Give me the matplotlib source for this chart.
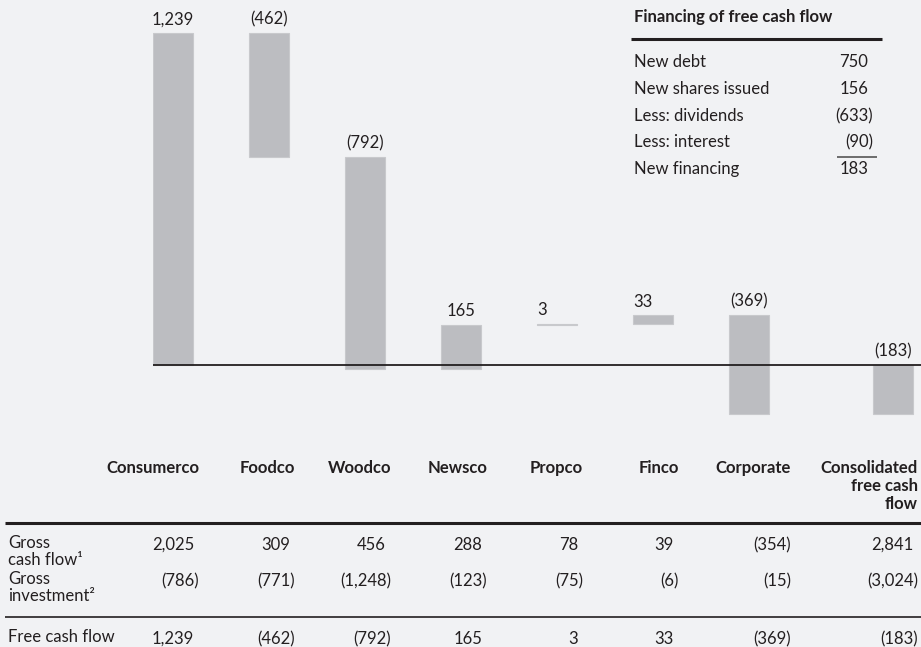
import numpy as np
import matplotlib.pyplot as plt
from matplotlib.lines import Line2D

plt.rcParams['font.family'] = ['Lato', 'DejaVu Sans']

# Data
categories = ['Consumerco', 'Foodco', 'Woodco', 'Newsco', 'Propco', 'Finco',
              'Corporate', 'Consolidated\nfree cash\nflow']
gross_cash_flow = [2025, 309, 456, 288, 78, 39, -354, 2841]
gross_investment = [-786, -771, -1248, -123, -75, -6, -15, -3024]
free_cash_flow = [1239, -462, -792, 165, 3, 33, -369, -183]

fin_labels = ['New debt', 'New shares issued', 'Less: dividends',
              'Less: interest', 'New financing']
fin_values = [750, 156, -633, -90, 183]

row_labels = ['Gross\ncash flow\u00b9', 'Gross\ninvestment\u00b2', 'Free cash flow']

bg = '#f1f2f4'
bar_col = '#bcbdc1'
txt = '#231f20'
W, H = 921, 647
FS = 12


def fmt(v):
    s = f"{abs(v):,}"
    return f"({s})" if v < 0 else s


def fx(x):
    return x / W


def fy(y):
    return 1 - y / H


def hline(x0, x1, y, lw=1.0, color=txt):
    fig.add_artist(Line2D([fx(x0), fx(x1)], [fy(y), fy(y)], transform=fig.transFigure,
                          color=color, lw=lw, solid_capstyle='butt'))


fig = plt.figure(figsize=(W / 100, H / 100), dpi=100, facecolor=bg)

# Waterfall chart
ax = fig.add_axes([fx(153), fy(430), 768 / W, 430 / H])
ax.set_facecolor(bg)
ax.axis('off')
xpos = np.array([0, 1, 2, 3, 4, 5, 6, 7.5])
steps = np.array(free_cash_flow[:-1])
bottoms = np.concatenate([[0], np.cumsum(steps)[:-1], [0]])
heights = np.array(free_cash_flow)
ax.bar(xpos, heights, bottom=bottoms, width=40 / 96, color=bar_col,
       edgecolor='#c8c9cc', linewidth=0.8)
ax.axhline(0, color=txt, lw=1.3)
ax.set_xlim(-20 / 96, 748 / 96)
ax.set_ylim(-65 / 0.268, 365 / 0.268)

for x, b, h in zip(xpos, bottoms, heights):
    top = max(b, b + h)
    ha = 'left' if abs(h) < 50 else 'center'
    xt = x - 20 / 96 if ha == 'left' else x
    ax.annotate(fmt(h), (xt, top), xytext=(0, 4), textcoords='offset points',
                ha=ha, va='bottom', fontsize=FS, color=txt)

# Financing inset table
fig.text(fx(634), fy(17), 'Financing of free cash flow', fontsize=FS, fontweight='bold',
         color=txt, va='center', ha='left')
hline(631, 882, 39, lw=2.2)
fin_y = [62, 89, 116, 142, 169]
for lab, v, y in zip(fin_labels, fin_values, fin_y):
    fig.text(fx(634), fy(y), lab, fontsize=FS, color=txt, va='center', ha='left')
    xr = 873 if v < 0 else 868
    fig.text(fx(xr), fy(y), fmt(v), fontsize=FS, color=txt, va='center', ha='right')
hline(837, 877, 157, lw=1.2, color='#555555')

# Bottom table
col_right = [199, 295, 391, 487, 583, 679, 791, 918]
for cat, xr in zip(categories, col_right):
    fig.text(fx(xr), fy(460), cat, fontsize=FS, fontweight='bold', color=txt,
             va='top', ha='right', linespacing=1.15)
hline(5, 921, 523, lw=2.2)

row_y = [545, 581, 639]
rows = [gross_cash_flow, gross_investment, free_cash_flow]
for lab, vals, y in zip(row_labels, rows, row_y):
    fig.text(fx(8), fy(y - 10), lab, fontsize=FS, color=txt, va='top', ha='left',
             linespacing=1.1)
    for v, xr in zip(vals, col_right):
        x = xr if v < 0 else xr - 5
        fig.text(fx(x), fy(y), fmt(v), fontsize=FS, color=txt, va='center', ha='right')
hline(5, 921, 617, lw=1.2)

fig.savefig('out.png', dpi=100, facecolor=bg)
